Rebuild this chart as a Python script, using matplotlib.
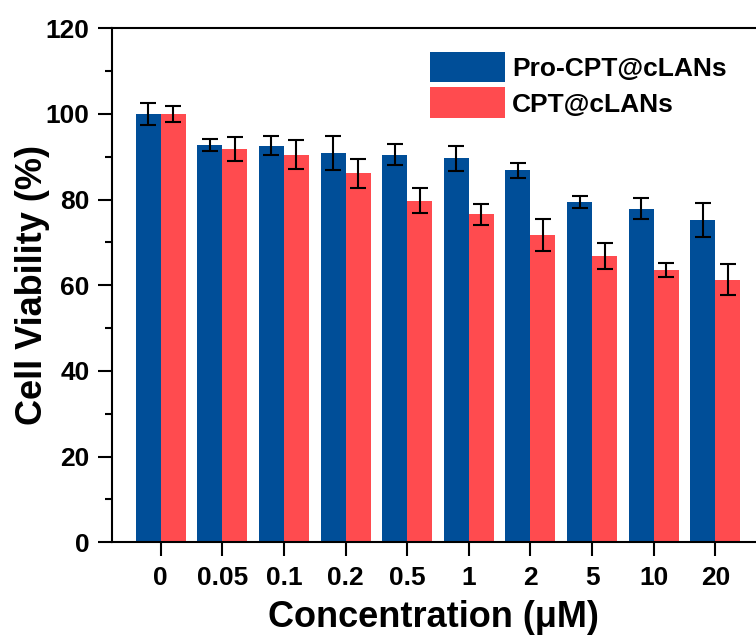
import numpy as np
import matplotlib
matplotlib.use("Agg")
import matplotlib.pyplot as plt
from matplotlib.ticker import MultipleLocator

plt.rcParams['font.family'] = ['Liberation Sans', 'DejaVu Sans']
plt.rcParams['font.weight'] = 'bold'

# ---- data ----
concentrations = ["0", "0.05", "0.1", "0.2", "0.5", "1", "2", "5", "10", "20"]
pro_cpt = [100.0, 92.8, 92.6, 90.8, 90.5, 89.6, 86.8, 79.4, 77.9, 75.3]
pro_cpt_err = [2.6, 1.4, 2.2, 4.0, 2.4, 2.85, 1.7, 1.35, 2.55, 3.95]
cpt = [100.0, 91.8, 90.5, 86.1, 79.7, 76.6, 71.7, 66.9, 63.5, 61.3]
cpt_err = [1.9, 2.8, 3.4, 3.3, 2.9, 2.45, 3.65, 3.0, 1.65, 3.6]

blue = "#004E98"
red = "#FF4B4F"

fig = plt.figure(figsize=(7.56, 6.37), dpi=100)
ax = fig.add_axes([0.1478, 0.1487, 0.8522, 0.807])

x = np.arange(len(concentrations))
w = 0.405
err_kw = dict(ecolor="black", elinewidth=1.5, capsize=5.6, capthick=1.5)

ax.bar(x - w / 2, pro_cpt, w, yerr=pro_cpt_err, color=blue,
       label="Pro-CPT@cLANs", error_kw=err_kw, zorder=2)
ax.bar(x + w / 2, cpt, w, yerr=cpt_err, color=red,
       label="CPT@cLANs", error_kw=err_kw, zorder=2)

ax.set_xlim(-0.794, 9.66)
ax.set_ylim(0, 120)
ax.set_xticks(x)
ax.set_xticklabels(concentrations)
ax.yaxis.set_major_locator(MultipleLocator(20))
ax.yaxis.set_minor_locator(MultipleLocator(10))

for s in ["left", "bottom", "top"]:
    ax.spines[s].set_linewidth(1.5)
ax.spines["right"].set_visible(False)

ax.tick_params(axis="both", which="major", direction="out", length=10,
               width=1.5, labelsize=19)
ax.tick_params(axis="y", which="minor", direction="out", length=5, width=1.5)
ax.tick_params(axis="x", pad=7)
ax.tick_params(axis="y", pad=6)

ax.set_xlabel("Concentration (\u03bcM)", fontsize=26, fontweight="bold", labelpad=7)
ax.set_ylabel("Cell Viability (%)", fontsize=26, fontweight="bold", labelpad=-3)

ax.legend(loc="upper left", bbox_to_anchor=(430 / 756, 1 - 52 / 637),
          bbox_transform=fig.transFigure, frameon=False, fontsize=19,
          borderpad=0, borderaxespad=0, handlelength=2.84, handleheight=1.4,
          labelspacing=0.19, handletextpad=0.27)

fig.savefig("out.png", dpi=100)
